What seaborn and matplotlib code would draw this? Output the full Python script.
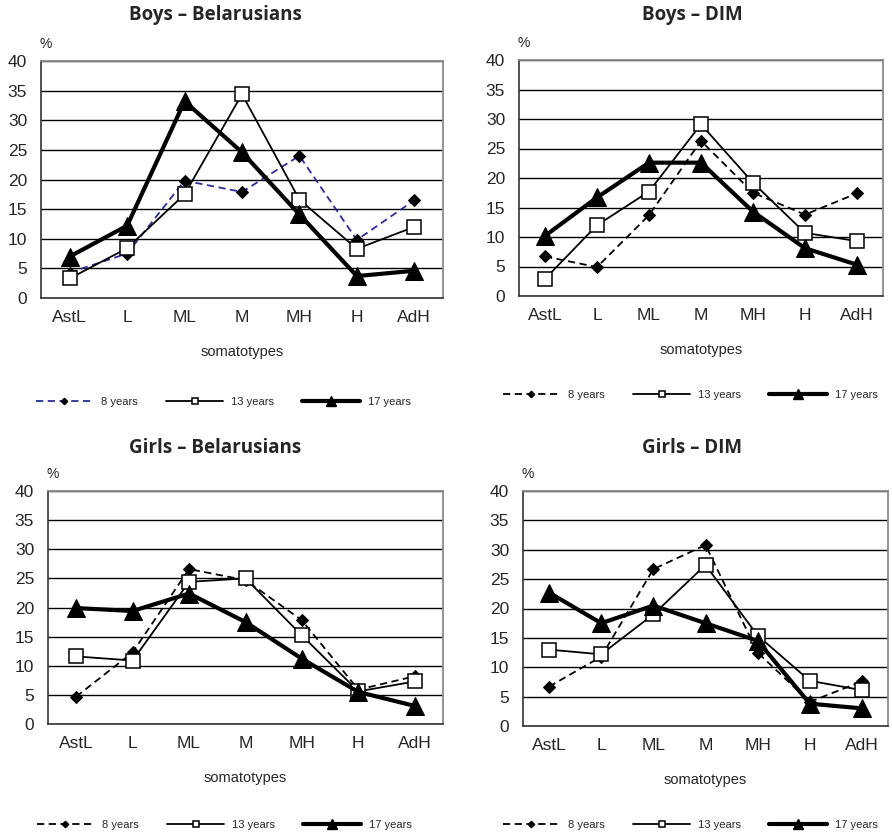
import matplotlib
matplotlib.use("Agg")
import matplotlib.pyplot as plt
import seaborn as sns
import pandas as pd
from matplotlib.lines import Line2D

# somatotype categories on the x axis
categories = ["AstL", "L", "ML", "M", "MH", "H", "AdH"]
ages = ["8 years", "13 years", "17 years"]

# values (%)
boys_bel_8 = [4.3, 7.5, 19.8, 17.9, 24.0, 9.8, 16.5]
boys_bel_13 = [3.3, 8.4, 17.5, 34.4, 16.6, 8.3, 12.0]
boys_bel_17 = [7.0, 12.2, 33.2, 24.6, 14.1, 3.7, 4.6]

boys_dim_8 = [6.7, 4.9, 13.7, 26.3, 17.5, 13.8, 17.4]
boys_dim_13 = [2.9, 12.0, 17.7, 29.1, 19.2, 10.7, 9.3]
boys_dim_17 = [10.2, 16.7, 22.6, 22.6, 14.3, 8.1, 5.3]

girls_bel_8 = [4.7, 12.3, 26.6, 24.7, 17.8, 5.9, 8.2]
girls_bel_13 = [11.6, 10.9, 24.4, 25.0, 15.2, 5.6, 7.3]
girls_bel_17 = [19.9, 19.4, 22.4, 17.5, 11.2, 5.5, 3.1]

girls_dim_8 = [6.7, 11.8, 26.7, 30.8, 12.5, 4.1, 7.6]
girls_dim_13 = [13.0, 12.2, 19.0, 27.4, 15.4, 7.7, 6.1]
girls_dim_17 = [22.7, 17.5, 20.5, 17.5, 14.5, 3.8, 3.0]

# title, series, colour of the 8-year line, plot box (px), title pos, legend pos
panels = [
    ("Boys – Belarusians", [boys_bel_8, boys_bel_13, boys_bel_17], "#2b2b9a",
     [41, 61, 443, 298], (215, 15), (223, 402)),
    ("Boys – DIM", [boys_dim_8, boys_dim_13, boys_dim_17], "black",
     [519, 60, 883, 296], (692, 15), (690, 395)),
    ("Girls – Belarusians", [girls_bel_8, girls_bel_13, girls_bel_17], "black",
     [48, 491, 443, 724], (215, 448), (224, 825)),
    ("Girls – DIM", [girls_dim_8, girls_dim_13, girls_dim_17], "black",
     [523, 491, 888, 726], (692, 448), (690, 825)),
]

sns.set_style("white")
plt.rcParams["font.family"] = ["Liberation Sans", "DejaVu Sans"]

W, H = 892, 834
fig = plt.figure(figsize=(W / 100, H / 100), dpi=100)


def series_styles(col8):
    return [
        dict(color=col8, linestyle=(0, (4, 2.5)), linewidth=1.3, marker="D",
             markersize=6.5, markerfacecolor="black", markeredgecolor="black"),
        dict(color="black", linestyle="-", linewidth=1.3, marker="s",
             markersize=10, markerfacecolor="white", markeredgecolor="black",
             markeredgewidth=1.1),
        dict(color="black", linestyle="-", linewidth=3.0, marker="^",
             markersize=13, markerfacecolor="black", markeredgecolor="black"),
    ]


for title, series, col8, box, tpos, lpos in panels:
    x0, y0, x1, y1 = box
    ax = fig.add_axes([x0 / W, 1 - y1 / H, (x1 - x0) / W, (y1 - y0) / H])
    styles = series_styles(col8)
    for vals, age, st in zip(series, ages, styles):
        df = pd.DataFrame({"pos": range(len(categories)), "pct": vals})
        sns.lineplot(data=df, x="pos", y="pct", ax=ax, label=age, legend=False,
                     zorder=3, **st)

    ax.set_xlim(-0.5, len(categories) - 0.5)
    ax.set_ylim(0, 40)
    ax.set_yticks(range(0, 41, 5))
    ax.yaxis.grid(True, color="black", linewidth=1.0)
    ax.set_axisbelow(True)
    ax.set_xticks([i - 0.5 for i in range(len(categories) + 1)])
    ax.set_xticklabels([])
    ax.set_xticks(range(len(categories)), minor=True)
    ax.set_xticklabels(categories, minor=True, fontsize=12.5)
    ax.tick_params(axis="x", which="major", direction="out", length=6,
                   width=1, color="#333333")
    ax.tick_params(axis="x", which="minor", length=0, pad=9)
    ax.tick_params(axis="y", direction="out", length=6, width=1,
                   color="#333333", labelsize=12.5, pad=4)
    for side in ["top", "right"]:
        ax.spines[side].set_color("#8a8a8a")
        ax.spines[side].set_linewidth(1.3)
    for side in ["left", "bottom"]:
        ax.spines[side].set_color("#333333")
        ax.spines[side].set_linewidth(1.2)
    ax.set_xlabel("somatotypes", fontsize=10.5, labelpad=14)
    ax.set_ylabel("")

    fig.text(tpos[0] / W, 1 - tpos[1] / H, title, ha="center", va="center",
             fontsize=13.5, fontweight="bold", family=["Open Sans", "DejaVu Sans"])
    fig.text((x0 + 5) / W, 1 - (y0 - 17) / H, "%", ha="center", va="center",
             fontsize=10)

    handles = []
    for st in styles:
        hst = dict(st)
        hst["markersize"] = st["markersize"] * 0.5
        handles.append(Line2D([], [], **hst))
    fig.legend(handles, ages, loc="center", ncol=3, frameon=False,
               bbox_to_anchor=(lpos[0] / W, 1 - lpos[1] / H),
               fontsize=8, handlelength=5.2, columnspacing=2.5,
               handletextpad=0.7)

fig.savefig("out.png", dpi=100)
